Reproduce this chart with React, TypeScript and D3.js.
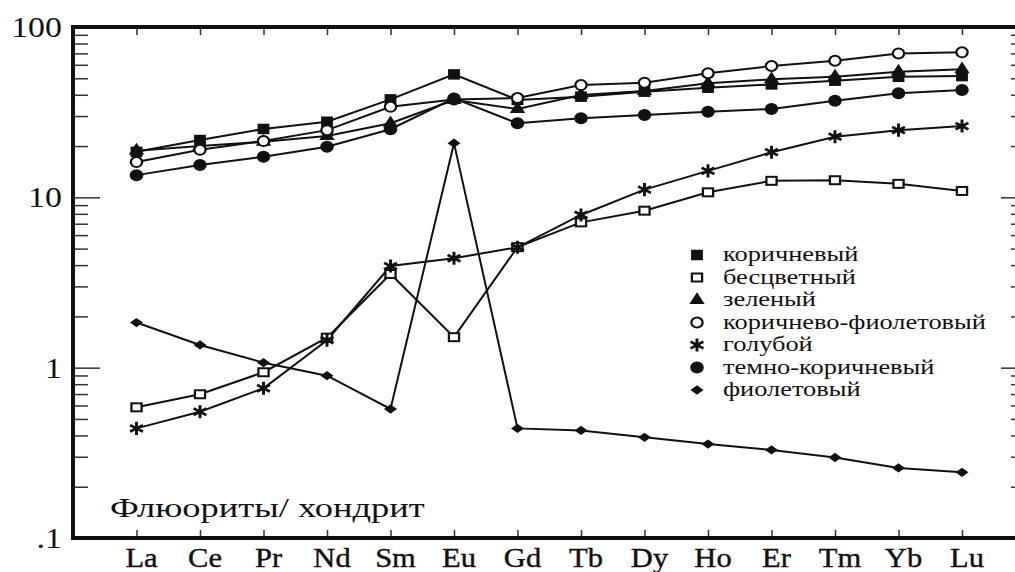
import React, { useRef, useEffect } from 'react';
import * as d3 from 'd3';

// REE chondrite-normalised patterns of fluorites
const elements = ['La', 'Ce', 'Pr', 'Nd', 'Sm', 'Eu', 'Gd', 'Tb', 'Dy', 'Ho', 'Er', 'Tm', 'Yb', 'Lu'];

const brown = [18.5, 21.7, 25.2, 27.8, 37.6, 52.7, 37.3, 39, 41.7, 44, 46, 48.4, 51, 51.5];
const colorless = [0.585, 0.698, 0.94, 1.5, 3.55, 1.51, 5.1, 7.13, 8.35, 10.7, 12.5, 12.6, 12, 10.9];
const green = [18.8, 20, 21.2, 22.9, 27.2, 37.3, 33, 39.9, 42.1, 46.7, 49.3, 51.1, 54.7, 56.4];
const brownViolet = [16.1, 19, 21.4, 24.8, 34, 37.5, 38.3, 45.6, 47.1, 53.5, 59, 63.4, 70, 71];
const blue = [0.44, 0.551, 0.757, 1.45, 3.95, 4.39, 5.09, 7.88, 11.1, 14.3, 18.4, 22.7, 24.8, 26.2];
const darkBrown = [13.5, 15.5, 17.3, 19.8, 25.1, 38.1, 27.2, 29.1, 30.4, 31.8, 33, 36.9, 40.8, 42.7];
const violet = [1.84, 1.36, 1.07, 0.897, 0.572, 20.8, 0.44, 0.428, 0.39, 0.356, 0.329, 0.297, 0.258, 0.243];

const seriesNames = [
  'коричневый',
  'бесцветный',
  'зеленый',
  'коричнево-фиолетовый',
  'голубой',
  'темно-коричневый',
  'фиолетовый'
];
const seriesValues = [brown, colorless, green, brownViolet, blue, darkBrown, violet];
const seriesMarkers = ['square', 'openSquare', 'triangle', 'openCircle', 'asterisk', 'circle', 'diamond'];

const yTickLabels = ['100', '10', '1', '.1'];
const yTickValues = [100, 10, 1, 0.1];
const chartLabel = 'Флюориты/ хондрит';

const FONT = 'Liberation Serif, Times New Roman, Times, serif';
const STRETCH = 1.13;

// wide flat diamond
const diamondWide = {
  draw(context, size) {
    const h = Math.sqrt(size) / 2;
    context.moveTo(0, -h * 0.85);
    context.lineTo(h * 1.05, 0);
    context.lineTo(0, h * 0.85);
    context.lineTo(-h * 1.05, 0);
    context.closePath();
  }
};

function drawMarker(g, type, x, y) {
  const m = g.append('g').attr('transform', `translate(${x},${y}) scale(${STRETCH},1)`);
  const sym = d3.symbol();
  if (type === 'square') {
    m.append('path').attr('d', sym.type(d3.symbolSquare).size(110)()).attr('fill', '#111');
  } else if (type === 'openSquare') {
    m.append('rect').attr('x', -4.5).attr('y', -4).attr('width', 9).attr('height', 8)
      .attr('fill', '#fff').attr('stroke', '#111').attr('stroke-width', 2);
  } else if (type === 'triangle') {
    m.append('path').attr('d', sym.type(d3.symbolTriangle).size(80)()).attr('fill', '#111');
  } else if (type === 'openCircle') {
    m.append('circle').attr('r', 5).attr('fill', '#fff').attr('stroke', '#111').attr('stroke-width', 2);
  } else if (type === 'asterisk') {
    m.append('path').attr('d', sym.type(d3.symbolAsterisk).size(120)())
      .attr('fill', 'none').attr('stroke', '#111').attr('stroke-width', 2.6);
  } else if (type === 'circle') {
    m.append('circle').attr('r', 6).attr('fill', '#111');
  } else if (type === 'diamond') {
    m.append('path').attr('d', sym.type(diamondWide).size(120)()).attr('fill', '#111');
  }
}

export default function App() {
  const svgRef = useRef(null);

  useEffect(() => {
    const width = 1015;
    const height = 572;
    const left = 73, right = 1017, top = 27, bottom = 538;

    const svg = d3.select(svgRef.current);
    svg.selectAll('*').remove();
    svg.attr('width', width).attr('height', height);

    const x = d3.scalePoint().domain(elements).range([136.5, 962]);
    const y = d3.scaleLog().domain([0.1, 100]).range([bottom, top]);

    const minor = [];
    [0.1, 1, 10].forEach(d => {
      for (let k = 2; k <= 9; k++) minor.push(+(d * k).toFixed(2));
    });

    const tickStyle = g => {
      g.select('.domain').remove();
      g.selectAll('line').attr('stroke', '#333').attr('stroke-width', 1.5);
      g.selectAll('text').remove();
    };

    // left ticks (pointing inward)
    svg.append('g').attr('transform', `translate(${left},0)`)
      .call(d3.axisRight(y).tickValues(minor).tickSize(15).tickFormat(() => ''))
      .call(tickStyle);
    svg.append('g').attr('transform', `translate(${left},0)`)
      .call(d3.axisRight(y).tickValues([1, 10]).tickSize(27).tickFormat(() => ''))
      .call(tickStyle);
    // right ticks
    svg.append('g').attr('transform', `translate(${right},0)`)
      .call(d3.axisLeft(y).tickValues(minor).tickSize(6).tickFormat(() => ''))
      .call(tickStyle);
    svg.append('g').attr('transform', `translate(${right},0)`)
      .call(d3.axisLeft(y).tickValues([1, 10]).tickSize(16).tickFormat(() => ''))
      .call(tickStyle);
    // top and bottom ticks
    svg.append('g').attr('transform', `translate(0,${top})`)
      .call(d3.axisBottom(x).tickSize(8).tickFormat(() => ''))
      .call(tickStyle);
    svg.append('g').attr('transform', `translate(0,${bottom})`)
      .call(d3.axisTop(x).tickSize(8).tickFormat(() => ''))
      .call(tickStyle);

    // frame
    svg.append('rect')
      .attr('x', left).attr('y', top)
      .attr('width', right - left).attr('height', bottom - top)
      .attr('fill', 'none').attr('stroke', '#111').attr('stroke-width', 4);

    // y labels
    yTickValues.forEach((v, i) => {
      svg.append('text')
        .attr('transform', `translate(62,${y(v) + 10}) scale(${STRETCH},1)`)
        .attr('text-anchor', 'end')
        .style('font-family', FONT)
        .attr('font-size', 30)
        .attr('fill', '#111')
        .text(yTickLabels[i]);
    });

    // x labels
    elements.forEach(el => {
      svg.append('text')
        .attr('transform', `translate(${x(el) + 5},567) scale(${STRETCH},1)`)
        .attr('text-anchor', 'middle')
        .style('font-family', FONT)
        .attr('font-size', 27)
        .attr('fill', '#111')
        .attr('stroke', '#111')
        .attr('stroke-width', 0.4)
        .text(el);
    });

    // lines
    const line = d3.line().x((d, i) => x(elements[i])).y(d => y(d));
    seriesValues.forEach(vals => {
      svg.append('path')
        .attr('d', line(vals))
        .attr('fill', 'none')
        .attr('stroke', '#111')
        .attr('stroke-width', 2);
    });

    // markers
    const mg = svg.append('g');
    seriesValues.forEach((vals, s) => {
      vals.forEach((v, i) => drawMarker(mg, seriesMarkers[s], x(elements[i]), y(v)));
    });

    // legend
    const lg = svg.append('g');
    seriesNames.forEach((name, i) => {
      const cy = 255 + i * 22.5;
      drawMarker(lg, seriesMarkers[i], 697, cy);
      lg.append('text')
        .attr('transform', `translate(723,${cy + 6}) scale(1.2,1)`)
        .style('font-family', FONT)
        .attr('font-size', 22)
        .attr('fill', '#111')
        .text(name);
    });

    svg.append('text')
      .attr('transform', `translate(110,517) scale(1.35,1)`)
      .style('font-family', FONT)
      .attr('font-size', 27)
      .attr('fill', '#111')
      .text(chartLabel);
  }, []);

  return (
    <svg ref={svgRef} style={{ position: 'absolute', left: 0, top: 0, background: '#fff' }} />
  );
}
